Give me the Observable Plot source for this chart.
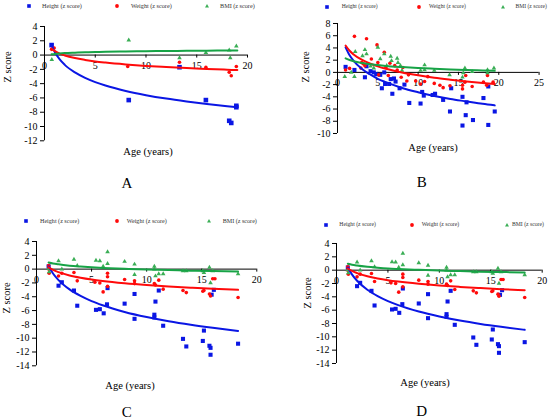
<!DOCTYPE html>
<html><head><meta charset="utf-8">
<script src="https://cdn.jsdelivr.net/npm/d3@7"></script>
<script src="https://cdn.jsdelivr.net/npm/@observablehq/plot@0.6"></script>
<style>
body{margin:0;background:#fff;}
#page{position:relative;width:550px;height:418px;overflow:hidden;background:#fff;font-family:"Liberation Serif","DejaVu Serif",serif;color:#000;}
.abs{position:absolute;white-space:nowrap;line-height:1;font-family:"Liberation Serif","DejaVu Serif",serif;}
svg text{font-family:"Liberation Serif","DejaVu Serif",serif;}
</style></head><body><div id="page"></div>
<script>
// ---------- shared ticks / labels ----------
const seriesNames = ["Height (z score)", "Weight (z score)", "BMI (z score)"];
const xTicks20 = [0, 5, 10, 15, 20];
const xTicks25 = [0, 5, 10, 15, 20, 25];
const yTicksA = [-12, -10, -8, -6, -4, -2, 0, 2, 4];
const yTicksB = [-10, -8, -6, -4, -2, 0, 2, 4, 6, 8];
const yTicksC = [-14, -12, -10, -8, -6, -4, -2, 0, 2, 4];
const panelLetters = ["A", "B", "C", "D"];
const xTitle = "Age (years)";
const yTitle = "Z score";

// ---------- panel A ----------
const aHeightAge = [0.7, 8.3, 13.3, 15.9, 18.2, 18.4, 18.9, 18.9];
const aHeightZ   = [1.4, -6.3, -1.7, -6.3, -9.2, -9.5, -7.1, -7.3];
const aWeightAge = [0.7, 0.95, 8.2, 13.3, 15.9, 18.2, 18.4, 18.9];
const aWeightZ   = [0.8, 1.0, -1.6, -1.0, -1.7, -2.4, -2.9, -1.6];
const aBmiAge    = [0.72, 8.3, 13.3, 15.9, 18.2, 18.3, 18.9];
const aBmiZ      = [-0.65, 2.1, -0.4, 0.35, 0.7, -0.4, 1.25];
const aTrendAge    = [0.7, 1, 1.5, 2, 3, 4, 5, 6, 8, 10, 12, 14, 16, 18, 19];
const aHeightTrend = [1.4, 0.46, -0.61, -1.37, -2.43, -3.19, -3.78, -4.26, -5.02, -5.61, -6.09, -6.49, -6.85, -7.16, -7.3];
const aWeightTrend = [0.9, 0.58, 0.21, -0.05, -0.42, -0.68, -0.89, -1.05, -1.31, -1.52, -1.68, -1.82, -1.94, -2.05, -2.1];
const aBmiTrend    = [0.1, 0.16, 0.23, 0.28, 0.34, 0.39, 0.43, 0.46, 0.51, 0.54, 0.57, 0.6, 0.62, 0.64, 0.65];

// ---------- panel B ----------
const bHeightAge = [1.0, 2.1, 3.4, 3.6, 4.1, 4.5, 4.8, 5.3, 5.5, 5.8, 5.9, 6.4, 6.6, 6.8, 7.0, 7.2, 7.7, 8.3, 8.9, 10.3, 10.5, 10.7, 11.8, 12.1, 13.1, 13.95, 14.1, 15.5, 15.5, 15.9, 16.0, 16.8, 18.1, 18.7, 18.7, 19.5];
const bHeightZ   = [0.9, 0.4, -0.8, 1.0, 0.2, 0, -0.3, -0.4, -2.6, 0, -1.9, -1.9, -1.1, -3.5, -1.0, -1.5, -2.6, -2.0, -5.0, -5.1, -3.2, -3.8, -3.7, -3.5, -4.5, -6.4, -2.6, -4.0, -8.7, -7.0, -4.9, -7.8, -4.2, -8.6, -2.3, -6.4];
const bWeightAge = [1.0, 1.5, 2.1, 2.9, 3.0, 3.2, 3.4, 3.6, 4.2, 4.9, 5.0, 5.1, 5.8, 6.0, 6.3, 6.5, 7.1, 7.4, 7.9, 8.1, 8.6, 8.8, 9.7, 10.3, 10.8, 11.2, 12.0, 12.7, 13.1, 13.95, 15.5, 15.5, 15.8, 15.9, 16.7, 18.1, 18.5, 18.6, 19.3];
const bWeightZ   = [0.4, 0.65, 5.9, 0.7, 1.6, 1.4, 1.1, 5.5, 2.2, 4.5, 1.6, -0.4, 3.3, 0.8, -0.5, 1.5, 1.1, 0.4, -0.8, 0.8, -1.4, -0.4, -1.4, -1.9, -1.5, -0.7, -1.8, -2.1, -2.5, -2.2, -2.7, -2.1, -1.6, -0.5, -2.3, -1.6, -2.1, -0.5, -1.6];
const bBmiAge    = [0.9, 1.7, 2.1, 2.2, 3.1, 3.4, 3.6, 4.1, 4.5, 5.0, 5.3, 5.8, 6.1, 6.6, 6.7, 7.4, 7.5, 7.8, 8.0, 10.3, 10.8, 10.8, 12.0, 13.9, 15.5, 15.6, 15.8, 16.7, 18.6, 18.6, 19.4];
const bBmiZ      = [-0.7, 0, -0.7, 3.4, 2.7, 3.7, 3.0, 1.0, 0.7, 4.1, 2.2, 3.0, 1.1, 2.6, 1.9, 2.3, 1.6, 1.1, 0.3, 0.3, 1.2, 0.4, 0.3, -0.4, -0.8, -0.1, 0.7, 0.1, 0.4, -0.1, 0.7];
const bTrendAge    = [1, 1.5, 2, 3, 4, 5, 6, 8, 10, 12, 14, 16, 18, 19.5];
const bHeightTrend = [4.1, 2.8, 1.9, 0.6, -0.3, -1.05, -1.6, -2.55, -3.25, -3.85, -4.35, -4.75, -5.15, -5.4];
const bWeightTrend = [4.4, 3.54, 2.93, 2.07, 1.46, 0.99, 0.6, -0.01, -0.48, -0.87, -1.19, -1.48, -1.73, -1.9];
const bBmiTrend    = [2.3, 2.02, 1.82, 1.54, 1.34, 1.19, 1.06, 0.87, 0.71, 0.59, 0.48, 0.39, 0.31, 0.25];

// ---------- panels C and D (same data) ----------
const cHeightAge = [1.1, 2.0, 2.3, 3.4, 3.7, 5.4, 5.75, 6.1, 6.4, 6.45, 8.0, 8.9, 8.9, 10.7, 10.7, 10.8, 11.1, 11.5, 13.3, 13.6, 15.1, 15.2, 15.7, 15.8, 15.8, 15.9, 16.1, 18.3];
const cHeightZ   = [0.4, -2.4, -1.9, -3.1, -5.3, -5.9, -5.8, -6.4, -5.1, -2.75, -5.0, -3.6, -7.2, -6.6, -7.0, -4.7, -3.1, -8.2, -10.1, -11.2, -10.4, -8.9, -11.1, -11.4, -12.4, -3.7, -3.0, -10.8];
const cWeightAge = [1.1, 1.1, 1.15, 2.0, 2.3, 3.4, 3.7, 5.3, 5.75, 6.05, 6.45, 6.45, 6.45, 8.0, 8.9, 8.9, 10.7, 10.8, 11.1, 11.5, 13.3, 13.6, 15.1, 15.2, 15.7, 15.8, 16.0, 16.2, 18.3];
const cWeightZ   = [0.5, 0.0, -0.6, -1.0, -0.6, -0.5, -1.7, -1.9, -2.0, -3.3, -0.6, -1.1, -2.5, -1.5, -1.7, -2.1, -2.1, -2.3, -1.6, -2.9, -3.1, -3.4, -3.2, -3.1, -3.6, -3.9, -1.4, -1.4, -4.1];
const cBmiAge    = [1.1, 1.15, 2.0, 2.3, 3.4, 3.7, 5.4, 5.75, 6.05, 6.45, 6.45, 8.0, 8.9, 8.9, 10.7, 10.7, 10.8, 11.1, 11.5, 13.3, 13.6, 15.1, 15.2, 15.7, 15.8, 16.0, 18.3];
const cBmiZ      = [0.05, -0.4, 1.2, 0.0, 1.4, 0.5, 1.25, 1.2, 0.4, 2.5, 0.8, 1.1, 0.7, -0.8, 0.4, 0.0, -1.0, -0.7, -0.7, -0.25, -0.25, -0.25, -0.5, 0.25, -2.0, -0.25, -0.7];
const cTrendAge    = [1.1, 1.5, 2, 3, 4, 5, 6, 8, 10, 12, 14, 16, 18.3];
const cHeightTrend = [0.4, -0.63, -1.59, -2.94, -3.89, -4.64, -5.24, -6.2, -6.94, -7.55, -8.06, -8.5, -8.95];
const cWeightTrend = [0.25, -0.11, -0.44, -0.91, -1.24, -1.5, -1.71, -2.04, -2.3, -2.51, -2.69, -2.85, -3.0];
const cBmiTrend    = [0.97, 0.82, 0.69, 0.5, 0.37, 0.26, 0.18, 0.05, -0.06, -0.14, -0.22, -0.28, -0.34];

// ---------- colours ----------
const BLUE = "#0a16e4", RED = "#ff0a0a", GREEN_LINE = "#17a346", GREEN_PT = "#3aae55";
const FONT = "'Liberation Serif','DejaVu Serif',serif";

const page = document.getElementById("page");

function addText(txt, x, y, size, opts = {}) {
  const s = document.createElement("div");
  s.className = "abs";
  s.textContent = txt;
  s.style.fontSize = size + "px";
  s.style.left = x + "px";
  s.style.top = y + "px";
  s.style.color = opts.color || "#000";
  s.style.transform = opts.anchor === "start" ? "translate(0,-50%)" :
    (opts.rotate ? "translate(-50%,-50%) rotate(-90deg)" : "translate(-50%,-50%)");
  page.appendChild(s);
}

function addLegendMarker(kind, cx, cy) {
  const ns = "http://www.w3.org/2000/svg";
  const svg = document.createElementNS(ns, "svg");
  svg.setAttribute("width", 8); svg.setAttribute("height", 8);
  svg.style.position = "absolute";
  svg.style.left = (cx - 4) + "px"; svg.style.top = (cy - 4) + "px";
  let el;
  if (kind === "square") { el = document.createElementNS(ns, "rect"); el.setAttribute("x", 2.2); el.setAttribute("y", 2.2); el.setAttribute("width", 3.6); el.setAttribute("height", 3.6); el.setAttribute("fill", BLUE); }
  else if (kind === "circle") { el = document.createElementNS(ns, "circle"); el.setAttribute("cx", 4); el.setAttribute("cy", 4); el.setAttribute("r", 1.9); el.setAttribute("fill", RED); }
  else { el = document.createElementNS(ns, "path"); el.setAttribute("d", "M4,2 L6,5.6 L2,5.6Z"); el.setAttribute("fill", GREEN_PT); }
  svg.appendChild(el);
  page.appendChild(svg);
}

function makePanel(cfg) {
  const mL = 40, mR = 8, mT = 8, mB = 16;
  const fw = cfg.frame.right - cfg.frame.left, fh = cfg.frame.bottom - cfg.frame.top;
  const idx = (arr) => d3.range(arr.length);
  const plot = Plot.plot({
    width: fw + mL + mR, height: fh + mT + mB,
    marginLeft: mL, marginRight: mR, marginTop: mT, marginBottom: mB,
    style: {fontFamily: FONT, fontSize: "10px", color: "#000", background: "transparent", overflow: "visible"},
    x: {domain: cfg.xDomain, axis: null},
    y: {domain: cfg.yDomain},
    marks: [
      Plot.axisY({ticks: cfg.yTicks, tickSize: 4, tickPadding: 3, tickFormat: d => String(d), label: null, fontSize: 10, stroke: "#000"}),
      Plot.ruleX([0], {stroke: "#000", strokeWidth: 1}),
      Plot.ruleY([0], {stroke: "#000", strokeWidth: 1}),
      Plot.ruleX(cfg.xTicks, {x: d => d, y1: 0, y2: 0, insetTop: 0, insetBottom: -3, stroke: "#000"}),
      Plot.text(cfg.xTicks, {x: d => d, y: 0, text: d => String(d), dy: 10.5, fontSize: 10, fill: "#000"}),
      Plot.dot(idx(cfg.hAge), {x: cfg.hAge, y: cfg.hZ, symbol: "square", r: cfg.sq, fill: BLUE, stroke: "none"}),
      Plot.dot(idx(cfg.wAge), {x: cfg.wAge, y: cfg.wZ, symbol: "circle", r: 1.8, fill: RED, stroke: "none"}),
      Plot.dot(idx(cfg.bAge), {x: cfg.bAge, y: cfg.bZ, symbol: "triangle", r: 1.7, fill: GREEN_PT, stroke: "none"}),
      Plot.line(idx(cfg.tAge), {x: cfg.tAge, y: cfg.tH, stroke: BLUE, strokeWidth: 2, curve: "monotone-x"}),
      Plot.line(idx(cfg.tAge), {x: cfg.tAge, y: cfg.tW, stroke: RED, strokeWidth: 2, curve: "monotone-x"}),
      Plot.line(idx(cfg.tAge), {x: cfg.tAge, y: cfg.tB, stroke: GREEN_LINE, strokeWidth: 2, curve: "monotone-x"})
    ]
  });
  plot.style.position = "absolute";
  plot.style.left = (cfg.frame.left - mL) + "px";
  plot.style.top = (cfg.frame.top - mT) + "px";
  page.appendChild(plot);

  // legend
  const L = cfg.legend;
  addLegendMarker("square", L.sq, L.y);
  addText(seriesNames[0], L.t1, L.y, L.fs, {anchor: "start", color: "#333"});
  addLegendMarker("circle", L.dot, L.y);
  addText(seriesNames[1], L.t2, L.y, L.fs, {anchor: "start", color: "#333"});
  addLegendMarker("triangle", L.tri, L.y);
  addText(seriesNames[2], L.t3, L.y, L.fs, {anchor: "start", color: "#333"});

  addText(yTitle, cfg.zLab[0], cfg.zLab[1], 10.5, {rotate: true});
  addText(xTitle, cfg.ageLab[0], cfg.ageLab[1], 10.5);
  addText(cfg.letter, cfg.letterPos[0], cfg.letterPos[1], 15);
}

makePanel({
  frame: {left: 44.3, right: 247.3, top: 25.7, bottom: 140},
  xDomain: [0, 20], xTicks: xTicks20, yDomain: [-12, 4], yTicks: yTicksA, sq: 2.6,
  hAge: aHeightAge, hZ: aHeightZ, wAge: aWeightAge, wZ: aWeightZ, bAge: aBmiAge, bZ: aBmiZ,
  tAge: aTrendAge, tH: aHeightTrend, tW: aWeightTrend, tB: aBmiTrend,
  legend: {y: 5.7, fs: 6.2, sq: 29, t1: 42, dot: 117, t2: 131, tri: 207, t3: 220},
  zLab: [8, 67], ageLab: [148, 152], letter: panelLetters[0], letterPos: [127, 183]
});
makePanel({
  frame: {left: 336.7, right: 538.3, top: 22.7, bottom: 132.7},
  xDomain: [0, 25], xTicks: xTicks25, yDomain: [-10, 8], yTicks: yTicksB, sq: 2.3,
  hAge: bHeightAge, hZ: bHeightZ, wAge: bWeightAge, wZ: bWeightZ, bAge: bBmiAge, bZ: bBmiZ,
  tAge: bTrendAge, tH: bHeightTrend, tW: bWeightTrend, tB: bBmiTrend,
  legend: {y: 6.7, fs: 5.6, sq: 327, t1: 341.7, dot: 419, t2: 429, tri: 503.3, t3: 515.5},
  zLab: [305.7, 66.7], ageLab: [433, 148], letter: panelLetters[1], letterPos: [421.7, 181.7]
});
makePanel({
  frame: {left: 35.7, right: 256, top: 240.7, bottom: 365},
  xDomain: [0, 20], xTicks: xTicks20, yDomain: [-14, 4], yTicks: yTicksC, sq: 2.3,
  hAge: cHeightAge, hZ: cHeightZ, wAge: cWeightAge, wZ: cWeightZ, bAge: cBmiAge, bZ: cBmiZ,
  tAge: cTrendAge, tH: cHeightTrend, tW: cWeightTrend, tB: cBmiTrend,
  legend: {y: 221, fs: 6.1, sq: 25.7, t1: 40, dot: 116.7, t2: 126.7, tri: 209.3, t3: 222.7},
  zLab: [7.3, 298], ageLab: [130, 385.7], letter: panelLetters[2], letterPos: [126.7, 411.7]
});
makePanel({
  frame: {left: 336, right: 541.7, top: 242.7, bottom: 362.7},
  xDomain: [0, 20], xTicks: xTicks20, yDomain: [-14, 4], yTicks: yTicksC, sq: 2.3,
  hAge: cHeightAge, hZ: cHeightZ, wAge: cWeightAge, wZ: cWeightZ, bAge: cBmiAge, bZ: cBmiZ,
  tAge: cTrendAge, tH: cHeightTrend, tW: cWeightTrend, tB: cBmiTrend,
  legend: {y: 224.7, fs: 5.7, sq: 326, t1: 339.3, dot: 411.7, t2: 421.7, tri: 506.7, t3: 512},
  zLab: [308.3, 293.3], ageLab: [425, 382.7], letter: panelLetters[3], letterPos: [421.7, 411]
});
</script>
</body></html>
